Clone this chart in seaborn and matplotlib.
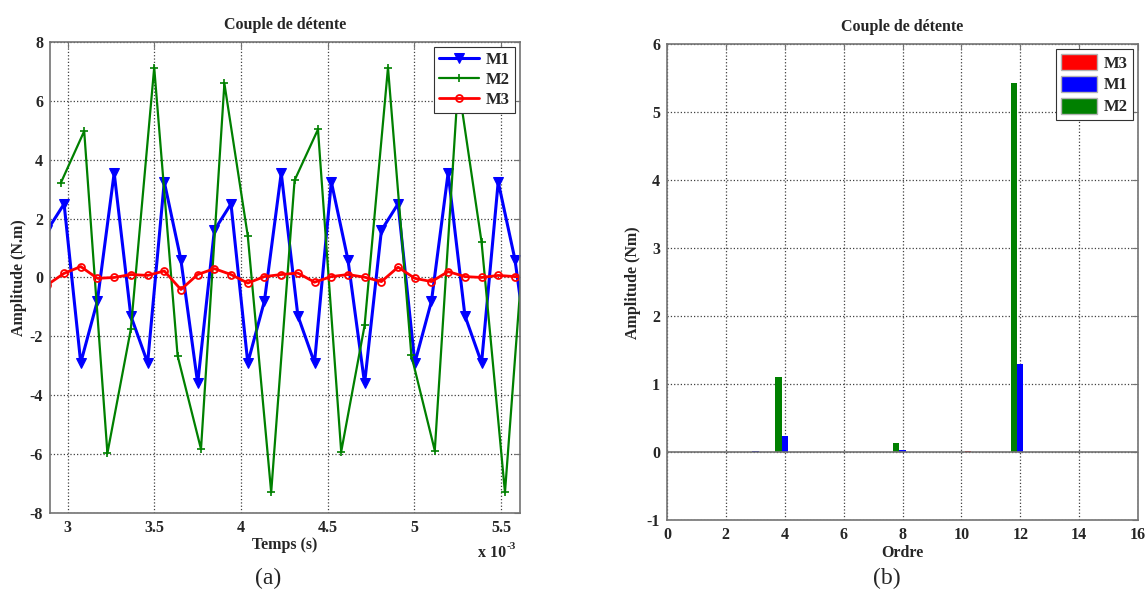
import matplotlib
matplotlib.use("Agg")
import matplotlib.pyplot as plt
import pandas as pd
import seaborn as sns
from matplotlib.patches import Patch
from matplotlib.ticker import FormatStrFormatter

# (a) cogging torque vs time, time in ms (axis shows x 10^-3 s)
t_m1 = [2.882, 2.979, 3.075, 3.171, 3.268, 3.364, 3.461, 3.557, 3.653, 3.750,
        3.846, 3.942, 4.039, 4.135, 4.232, 4.328, 4.424, 4.521, 4.617, 4.713,
        4.810, 4.906, 5.003, 5.099, 5.195, 5.292, 5.388, 5.484, 5.581, 5.677]
m1 = [1.6, 2.5, -2.9, -0.8, 3.55, -1.3, -2.9, 3.25, 0.6, -3.6,
      1.6, 2.5, -2.9, -0.8, 3.55, -1.3, -2.9, 3.25, 0.6, -3.6,
      1.6, 2.5, -2.9, -0.8, 3.55, -1.3, -2.9, 3.25, 0.6, -3.6]
m3 = [-0.25, 0.14, 0.37, -0.03, 0.0, 0.1, 0.07, 0.22, -0.41, 0.1,
      0.3, 0.1, -0.19, 0.03, 0.1, 0.15, -0.16, 0.03, 0.1, 0.01,
      -0.14, 0.35, -0.03, -0.14, 0.2, 0.03, 0.0, 0.07, 0.03, 0.0]
t_m2 = [2.960, 3.095, 3.229, 3.364, 3.499, 3.634, 3.769, 3.904, 4.039, 4.174,
        4.309, 4.444, 4.578, 4.713, 4.848, 4.983, 5.118, 5.253, 5.388, 5.523,
        5.658]
m2 = [3.21, 4.97, -5.97, -1.76, 7.13, -2.66, -5.83, 6.59, 1.41, -7.3,
      3.3, 5.03, -5.92, -1.63, 7.13, -2.65, -5.88, 6.6, 1.2, -7.3,
      3.3]

# (b) harmonic spectrum
orders = list(range(16))
spec_m1 = [0, 0, 0, 0.015, 0.24, 0, 0, 0, 0.035, 0, 0, 0, 1.30, 0, 0, 0]
spec_m2 = [0, 0, 0, 0, 1.10, 0, 0, 0, 0.14, 0, 0, 0, 5.42, 0, 0, 0]
spec_m3 = [0, 0, 0, 0, 0, 0, 0, 0, 0, 0, 0.02, 0, 0, 0, 0, 0]

GREEN = (0, 0.5, 0)
colors = {"M1": "blue", "M2": GREEN, "M3": "red"}

sns.set_style("white")
plt.rcParams["font.family"] = ["Liberation Serif", "DejaVu Serif"]
plt.rcParams["font.weight"] = "bold"
plt.rcParams["axes.unicode_minus"] = False

fig = plt.figure(figsize=(11.48, 5.96), dpi=100)
ax1 = fig.add_axes([0.0436, 0.1393, 0.4094, 0.7903])
ax2 = fig.add_axes([0.581, 0.1268, 0.4103, 0.7994])

# ---- (a) time signals
sns.lineplot(x=t_m1, y=m1, ax=ax1, color="blue", marker="v", markersize=7.5,
             markeredgecolor="blue", markerfacecolor="blue", linewidth=2.2, label="M1")
sns.lineplot(x=t_m2, y=m2, ax=ax1, color=GREEN, marker="+", markersize=6,
             markeredgecolor=GREEN, markeredgewidth=1.2, linewidth=1.6, label="M2")
sns.lineplot(x=t_m1, y=m3, ax=ax1, color="red", marker="o", markersize=5,
             markeredgecolor="red", markerfacecolor="none", markeredgewidth=1.3,
             linewidth=2, label="M3")

ax1.set_xlim(2.898, 5.61)
ax1.set_ylim(-8, 8)
ax1.set_xticks([3, 3.5, 4, 4.5, 5, 5.5])
ax1.set_yticks(range(-8, 9, 2))
ax1.xaxis.set_major_formatter(FormatStrFormatter("%g"))
ax1.set_title("Couple de détente", fontsize=11.5, fontweight="bold", pad=9)
ax1.set_xlabel("Temps (s)", fontsize=11.5, fontweight="bold", labelpad=1)
ax1.set_ylabel("Amplitude (N.m)", fontsize=11.5, fontweight="bold", labelpad=2)
ax1.text(0.97, -0.085, "x 10", transform=ax1.transAxes,
         ha="right", va="center", fontsize=11.5, fontweight="bold")
ax1.text(0.972, -0.072, "-3", transform=ax1.transAxes,
         ha="left", va="center", fontsize=8, fontweight="bold")
leg1 = ax1.legend(loc="upper right", fontsize=12, fancybox=False, framealpha=1,
                  edgecolor="0.2", handlelength=2.4, borderaxespad=0.3,
                  borderpad=0.3, labelspacing=0.25, handletextpad=0.4)
leg1.get_frame().set_linewidth(0.8)

# ---- (b) spectrum
df = pd.DataFrame({
    "Ordre": orders * 3,
    "Amplitude": spec_m2 + spec_m1 + spec_m3,
    "Serie": ["M2"] * len(orders) + ["M1"] * len(orders) + ["M3"] * len(orders),
})
sns.barplot(data=df, x="Ordre", y="Amplitude", hue="Serie",
            hue_order=["M2", "M1", "M3"], palette=colors, native_scale=True,
            width=0.66, saturation=1, errorbar=None, legend=False,
            linewidth=0, ax=ax2)
ax2.axhline(0, color="0.45", linewidth=1.2, zorder=3)

ax2.set_xlim(0, 16)
ax2.set_ylim(-1, 6)
ax2.set_xticks(range(0, 17, 2))
ax2.set_yticks(range(-1, 7))
ax2.set_title("Couple de détente", fontsize=11.5, fontweight="bold", pad=9)
ax2.set_xlabel("Ordre", fontsize=11.5, fontweight="bold", labelpad=1)
ax2.set_ylabel("Amplitude (Nm)", fontsize=11.5, fontweight="bold", labelpad=4)
handles = [Patch(facecolor=colors[k], edgecolor="0.7") for k in ["M3", "M1", "M2"]]
leg2 = ax2.legend(handles, ["M3", "M1", "M2"], loc="upper right", fontsize=12,
                  fancybox=False, framealpha=1, edgecolor="0.2", handlelength=2.2,
                  handleheight=1.1, borderaxespad=0.3, borderpad=0.3,
                  labelspacing=0.25, handletextpad=0.4)
leg2.get_frame().set_linewidth(0.8)

for ax in (ax1, ax2):
    ax.grid(True, linestyle=":", color="0.25", linewidth=0.9)
    ax.set_axisbelow(True)
    ax.tick_params(direction="in", length=4, top=True, right=True,
                   labelsize=11.5, color="0.45", pad=5)
    for lab in ax.get_xticklabels() + ax.get_yticklabels():
        lab.set_fontweight("bold")
    for s in ax.spines.values():
        s.set_color("0.45")
        s.set_linewidth(1.2)

fig.text(268 / 1148, 1 - 578 / 596, "(a)", ha="center", va="center",
         fontsize=17, fontweight="normal")
fig.text(887 / 1148, 1 - 578 / 596, "(b)", ha="center", va="center",
         fontsize=17, fontweight="normal")

fig.savefig("out.png", dpi=100)
